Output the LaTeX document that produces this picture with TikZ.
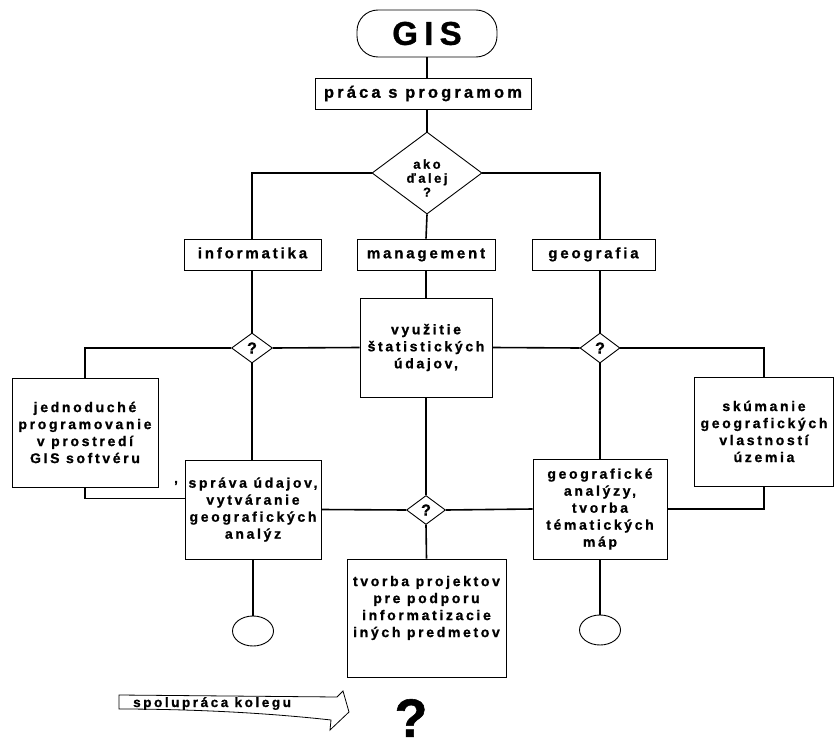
\documentclass[tikz,border=0pt]{standalone}
\usepackage{fontspec}
\setmainfont{Liberation Sans}
\newfontfamily\lbl{Liberation Sans Bold}[LetterSpace=19, FakeBold=1]
\newfontfamily\lblq{Liberation Sans Bold}[FakeBold=1]
\usetikzlibrary{shapes.geometric}
\begin{document}
\begin{tikzpicture}[x=1pt,y=-1pt,
  box/.style={draw, line width=0.9pt, inner sep=0pt, align=center,
    font=\lbl\fontsize{14}{17}\selectfont},
  lab/.style={draw, line width=0.9pt, inner sep=0pt, align=center,
    minimum height=31pt, text height=11pt, text depth=3.5pt, font=\lbl\fontsize{15}{17}\selectfont},
  dia/.style={draw, diamond, line width=0.9pt, inner sep=0pt},
  qtext/.style={font=\lblq\fontsize{16}{16}\selectfont, inner sep=0pt},
  oval/.style={draw, ellipse, line width=0.9pt, minimum width=41pt, minimum height=30pt, inner sep=0pt},
  con/.style={line width=1.6pt}]
\useasboundingbox (0,0) rectangle (835,749);

% top
\node[draw, line width=0.9pt, rounded corners=21pt, minimum width=140pt, minimum height=47pt,
  inner sep=0pt, font=\lbl\fontsize{33}{33}\selectfont] (gis) at (427,33.5) {GIS};
\node[lab, minimum width=216pt, font=\lbl\fontsize{16.5}{17}\selectfont] (prac) at (423,94) {práca s programom};
\node[dia, minimum width=110pt, minimum height=82pt] (d1) at (427,173) {};
\node[align=center, inner sep=0pt, font=\lbl\fontsize{13}{14}\selectfont] (d1t) at (427,178) {ako\\ďalej\\?};

% categories
\node[lab, minimum width=137pt] (info) at (252.5,254.5) {informatika};
\node[lab, minimum width=138pt] (mgmt) at (426,254.5) {management};
\node[lab, minimum width=123pt] (geo) at (593.5,254.5) {geografia};

% second level
\node[box, minimum width=132pt, minimum height=99pt] (vyuz) at (426,347.5) {využitie\\štatistických\\údajov,};
\node[dia, minimum width=41pt, minimum height=30pt] (q1) at (252,348) {};
\node[qtext] at (q1) {?};
\node[dia, minimum width=40pt, minimum height=30pt] (q2) at (600,348) {};
\node[qtext] at (q2) {?};
\node[box, minimum width=146pt, minimum height=109pt] (jedn) at (85,432.5) {jednoduché\\programovanie\\v prostredí\\GIS softvéru};
\node[box, minimum width=139pt, minimum height=109pt] (skum) at (764,431.5) {skúmanie\\geografických\\vlastností\\územia};

% third level
\node[box, minimum width=136pt, minimum height=99pt] (sprava) at (253,509.5) {správa údajov,\\vytváranie\\geografických\\analýz};
\node[box, minimum width=134pt, minimum height=100pt] (geoa) at (600,509) {geografické\\analýzy,\\tvorba\\tématických\\máp};
\node[dia, minimum width=39pt, minimum height=29pt] (q3) at (426,510) {};
\node[qtext] at (q3) {?};
\node[box, minimum width=159pt, minimum height=118pt, text depth=0pt] (tvor) at (426.5,618) {tvorba projektov\\pre podporu\\informatizacie\\iných predmetov\\[6pt]};
\node[font=\lbl\fontsize{13}{13}\selectfont, inner sep=0pt] (comma) at (176,483) {,};

% ends
\node[oval] (e1) at (253,631) {};
\node[oval] (e2) at (600,630) {};

% connectors
\draw[con] (gis.south) -- (gis.south |- prac.north);
\draw[con] (d1.north |- prac.south) -- (d1.north);
\draw[con] (d1.west) -| (q1 |- info.north);
\draw[con] (d1.east) -| (q2 |- geo.north);
\draw[con] (d1.south) -- (mgmt.north);
\draw[con] (mgmt.south) -- (vyuz.north);
\draw[con] (q1 |- info.south) -- (q1.north);
\draw[con] (q2 |- geo.south) -- (q2.north);
\draw[con] (q1.west) -| (jedn.north);
\draw[con] (q1.east) -- (vyuz.west);
\draw[con] (q2.west) -- (vyuz.east);
\draw[con] (q2.east) -| (skum.north);
\draw[con] (q1.south) -- (sprava.north -| q1);
\draw[con] (q2.south) -- (geoa.north);
\draw[con] (jedn.south) |- ([yshift=11pt]sprava.west);
\draw[con] (sprava.east) -- (q3.west);
\draw[con] (q3.east) -- (geoa.west);
\draw[con] (geoa.east) -| (skum.south);
\draw[con] (vyuz.south) -- (q3.north);
\draw[con] (q3.south) -- (tvor.north);
\draw[con] (sprava.south) -- (e1.north);
\draw[con] (geoa.south) -- (e2.north);

% bottom arrow
\draw[line width=0.8pt] (119,695) -- (337,697) -- (343,691) -- (349,712) -- (330,730) -- (331,720)
  .. controls (250,711) and (170,709) .. (119,709) -- cycle;
\node[font=\lbl\fontsize{13.5}{13}\selectfont, inner sep=0pt, anchor=base west] (spol) at (133,707) {spolupráca kolegu};
\node[font=\lblq\fontsize{54}{54}\selectfont, inner sep=0pt] (bigq) at (411,718) {?};
\end{tikzpicture}
\end{document}
